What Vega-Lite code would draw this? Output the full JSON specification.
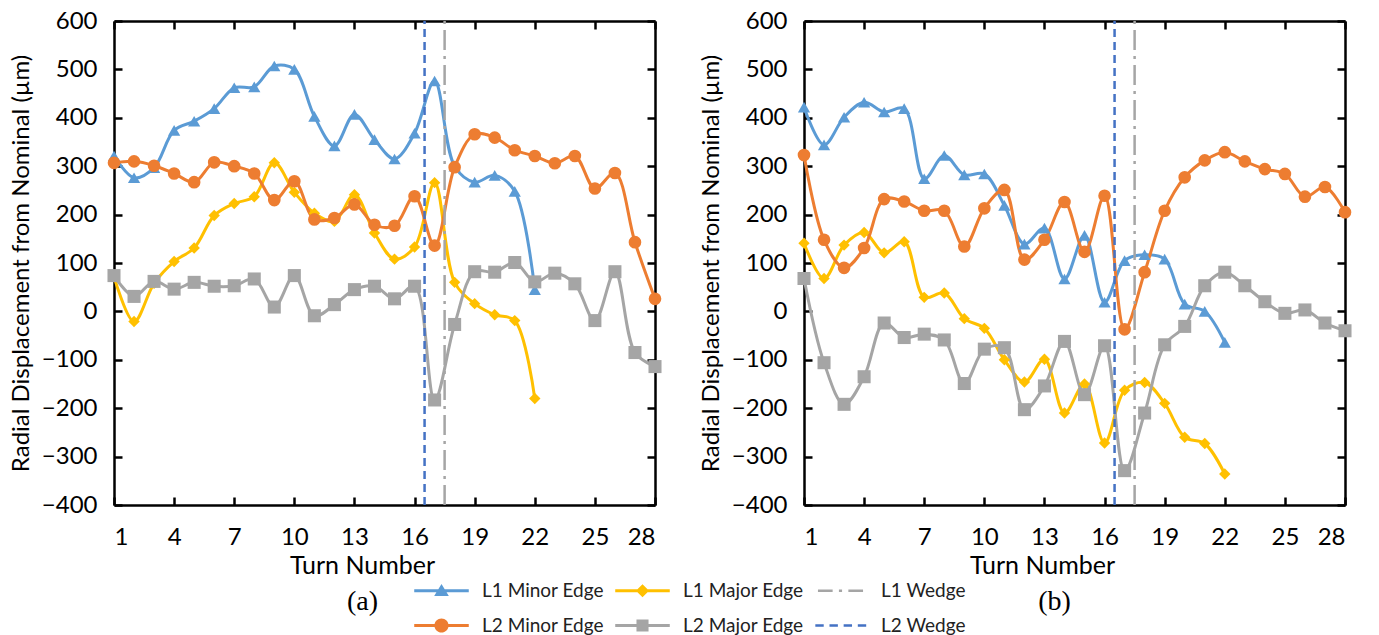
{
  "$schema": "https://vega.github.io/schema/vega-lite/v6.json",
  "background": "white",
  "padding": {"left": 9, "top": 9, "right": 0, "bottom": 0},
  "spacing": 37,
  "datasets": {
    "legendEntries": [
      {"series":"L1 Minor Edge"},{"series":"L1 Major Edge"},{"series":"L1 Wedge"},
      {"series":"L2 Minor Edge"},{"series":"L2 Major Edge"},{"series":"L2 Wedge"}
    ],
    "series": [
      {"panel":"a","series":"L1 Minor Edge","turn":1,"value":321},{"panel":"a","series":"L1 Minor Edge","turn":2,"value":276},{"panel":"a","series":"L1 Minor Edge","turn":3,"value":297},{"panel":"a","series":"L1 Minor Edge","turn":4,"value":374},{"panel":"a","series":"L1 Minor Edge","turn":5,"value":393},{"panel":"a","series":"L1 Minor Edge","turn":6,"value":419},{"panel":"a","series":"L1 Minor Edge","turn":7,"value":462},{"panel":"a","series":"L1 Minor Edge","turn":8,"value":464},{"panel":"a","series":"L1 Minor Edge","turn":9,"value":507},{"panel":"a","series":"L1 Minor Edge","turn":10,"value":500},{"panel":"a","series":"L1 Minor Edge","turn":11,"value":403},{"panel":"a","series":"L1 Minor Edge","turn":12,"value":342},{"panel":"a","series":"L1 Minor Edge","turn":13,"value":407},{"panel":"a","series":"L1 Minor Edge","turn":14,"value":355},{"panel":"a","series":"L1 Minor Edge","turn":15,"value":315},{"panel":"a","series":"L1 Minor Edge","turn":16,"value":368},{"panel":"a","series":"L1 Minor Edge","turn":17,"value":476},{"panel":"a","series":"L1 Minor Edge","turn":18,"value":300},{"panel":"a","series":"L1 Minor Edge","turn":19,"value":267},{"panel":"a","series":"L1 Minor Edge","turn":20,"value":281},{"panel":"a","series":"L1 Minor Edge","turn":21,"value":248},{"panel":"a","series":"L1 Minor Edge","turn":22,"value":45},
      {"panel":"a","series":"L1 Major Edge","turn":1,"value":72},{"panel":"a","series":"L1 Major Edge","turn":2,"value":-21},{"panel":"a","series":"L1 Major Edge","turn":3,"value":58},{"panel":"a","series":"L1 Major Edge","turn":4,"value":103},{"panel":"a","series":"L1 Major Edge","turn":5,"value":131},{"panel":"a","series":"L1 Major Edge","turn":6,"value":198},{"panel":"a","series":"L1 Major Edge","turn":7,"value":223},{"panel":"a","series":"L1 Major Edge","turn":8,"value":237},{"panel":"a","series":"L1 Major Edge","turn":9,"value":307},{"panel":"a","series":"L1 Major Edge","turn":10,"value":246},{"panel":"a","series":"L1 Major Edge","turn":11,"value":203},{"panel":"a","series":"L1 Major Edge","turn":12,"value":186},{"panel":"a","series":"L1 Major Edge","turn":13,"value":241},{"panel":"a","series":"L1 Major Edge","turn":14,"value":162},{"panel":"a","series":"L1 Major Edge","turn":15,"value":108},{"panel":"a","series":"L1 Major Edge","turn":16,"value":133},{"panel":"a","series":"L1 Major Edge","turn":17,"value":266},{"panel":"a","series":"L1 Major Edge","turn":18,"value":60},{"panel":"a","series":"L1 Major Edge","turn":19,"value":16},{"panel":"a","series":"L1 Major Edge","turn":20,"value":-7},{"panel":"a","series":"L1 Major Edge","turn":21,"value":-19},{"panel":"a","series":"L1 Major Edge","turn":22,"value":-180},
      {"panel":"a","series":"L2 Minor Edge","turn":1,"value":307},{"panel":"a","series":"L2 Minor Edge","turn":2,"value":310},{"panel":"a","series":"L2 Minor Edge","turn":3,"value":301},{"panel":"a","series":"L2 Minor Edge","turn":4,"value":285},{"panel":"a","series":"L2 Minor Edge","turn":5,"value":267},{"panel":"a","series":"L2 Minor Edge","turn":6,"value":308},{"panel":"a","series":"L2 Minor Edge","turn":7,"value":300},{"panel":"a","series":"L2 Minor Edge","turn":8,"value":285},{"panel":"a","series":"L2 Minor Edge","turn":9,"value":230},{"panel":"a","series":"L2 Minor Edge","turn":10,"value":269},{"panel":"a","series":"L2 Minor Edge","turn":11,"value":190},{"panel":"a","series":"L2 Minor Edge","turn":12,"value":193},{"panel":"a","series":"L2 Minor Edge","turn":13,"value":221},{"panel":"a","series":"L2 Minor Edge","turn":14,"value":179},{"panel":"a","series":"L2 Minor Edge","turn":15,"value":177},{"panel":"a","series":"L2 Minor Edge","turn":16,"value":238},{"panel":"a","series":"L2 Minor Edge","turn":17,"value":136},{"panel":"a","series":"L2 Minor Edge","turn":18,"value":298},{"panel":"a","series":"L2 Minor Edge","turn":19,"value":366},{"panel":"a","series":"L2 Minor Edge","turn":20,"value":359},{"panel":"a","series":"L2 Minor Edge","turn":21,"value":333},{"panel":"a","series":"L2 Minor Edge","turn":22,"value":321},{"panel":"a","series":"L2 Minor Edge","turn":23,"value":306},{"panel":"a","series":"L2 Minor Edge","turn":24,"value":321},{"panel":"a","series":"L2 Minor Edge","turn":25,"value":254},{"panel":"a","series":"L2 Minor Edge","turn":26,"value":286},{"panel":"a","series":"L2 Minor Edge","turn":27,"value":143},{"panel":"a","series":"L2 Minor Edge","turn":28,"value":26},
      {"panel":"a","series":"L2 Major Edge","turn":1,"value":74},{"panel":"a","series":"L2 Major Edge","turn":2,"value":31},{"panel":"a","series":"L2 Major Edge","turn":3,"value":62},{"panel":"a","series":"L2 Major Edge","turn":4,"value":46},{"panel":"a","series":"L2 Major Edge","turn":5,"value":60},{"panel":"a","series":"L2 Major Edge","turn":6,"value":52},{"panel":"a","series":"L2 Major Edge","turn":7,"value":53},{"panel":"a","series":"L2 Major Edge","turn":8,"value":67},{"panel":"a","series":"L2 Major Edge","turn":9,"value":9},{"panel":"a","series":"L2 Major Edge","turn":10,"value":74},{"panel":"a","series":"L2 Major Edge","turn":11,"value":-9},{"panel":"a","series":"L2 Major Edge","turn":12,"value":14},{"panel":"a","series":"L2 Major Edge","turn":13,"value":45},{"panel":"a","series":"L2 Major Edge","turn":14,"value":52},{"panel":"a","series":"L2 Major Edge","turn":15,"value":26},{"panel":"a","series":"L2 Major Edge","turn":16,"value":52},{"panel":"a","series":"L2 Major Edge","turn":17,"value":-183},{"panel":"a","series":"L2 Major Edge","turn":18,"value":-27},{"panel":"a","series":"L2 Major Edge","turn":19,"value":82},{"panel":"a","series":"L2 Major Edge","turn":20,"value":81},{"panel":"a","series":"L2 Major Edge","turn":21,"value":101},{"panel":"a","series":"L2 Major Edge","turn":22,"value":61},{"panel":"a","series":"L2 Major Edge","turn":23,"value":79},{"panel":"a","series":"L2 Major Edge","turn":24,"value":57},{"panel":"a","series":"L2 Major Edge","turn":25,"value":-19},{"panel":"a","series":"L2 Major Edge","turn":26,"value":82},{"panel":"a","series":"L2 Major Edge","turn":27,"value":-85},{"panel":"a","series":"L2 Major Edge","turn":28,"value":-114},
      {"panel":"b","series":"L1 Minor Edge","turn":1,"value":422},{"panel":"b","series":"L1 Minor Edge","turn":2,"value":344},{"panel":"b","series":"L1 Minor Edge","turn":3,"value":401},{"panel":"b","series":"L1 Minor Edge","turn":4,"value":432},{"panel":"b","series":"L1 Minor Edge","turn":5,"value":412},{"panel":"b","series":"L1 Minor Edge","turn":6,"value":419},{"panel":"b","series":"L1 Minor Edge","turn":7,"value":274},{"panel":"b","series":"L1 Minor Edge","turn":8,"value":322},{"panel":"b","series":"L1 Minor Edge","turn":9,"value":282},{"panel":"b","series":"L1 Minor Edge","turn":10,"value":284},{"panel":"b","series":"L1 Minor Edge","turn":11,"value":219},{"panel":"b","series":"L1 Minor Edge","turn":12,"value":139},{"panel":"b","series":"L1 Minor Edge","turn":13,"value":172},{"panel":"b","series":"L1 Minor Edge","turn":14,"value":67},{"panel":"b","series":"L1 Minor Edge","turn":15,"value":157},{"panel":"b","series":"L1 Minor Edge","turn":16,"value":19},{"panel":"b","series":"L1 Minor Edge","turn":17,"value":105},{"panel":"b","series":"L1 Minor Edge","turn":18,"value":117},{"panel":"b","series":"L1 Minor Edge","turn":19,"value":108},{"panel":"b","series":"L1 Minor Edge","turn":20,"value":15},{"panel":"b","series":"L1 Minor Edge","turn":21,"value":0},{"panel":"b","series":"L1 Minor Edge","turn":22,"value":-64},
      {"panel":"b","series":"L1 Major Edge","turn":1,"value":141},{"panel":"b","series":"L1 Major Edge","turn":2,"value":68},{"panel":"b","series":"L1 Major Edge","turn":3,"value":137},{"panel":"b","series":"L1 Major Edge","turn":4,"value":163},{"panel":"b","series":"L1 Major Edge","turn":5,"value":121},{"panel":"b","series":"L1 Major Edge","turn":6,"value":144},{"panel":"b","series":"L1 Major Edge","turn":7,"value":29},{"panel":"b","series":"L1 Major Edge","turn":8,"value":38},{"panel":"b","series":"L1 Major Edge","turn":9,"value":-15},{"panel":"b","series":"L1 Major Edge","turn":10,"value":-35},{"panel":"b","series":"L1 Major Edge","turn":11,"value":-100},{"panel":"b","series":"L1 Major Edge","turn":12,"value":-146},{"panel":"b","series":"L1 Major Edge","turn":13,"value":-99},{"panel":"b","series":"L1 Major Edge","turn":14,"value":-210},{"panel":"b","series":"L1 Major Edge","turn":15,"value":-150},{"panel":"b","series":"L1 Major Edge","turn":16,"value":-272},{"panel":"b","series":"L1 Major Edge","turn":17,"value":-163},{"panel":"b","series":"L1 Major Edge","turn":18,"value":-147},{"panel":"b","series":"L1 Major Edge","turn":19,"value":-190},{"panel":"b","series":"L1 Major Edge","turn":20,"value":-260},{"panel":"b","series":"L1 Major Edge","turn":21,"value":-273},{"panel":"b","series":"L1 Major Edge","turn":22,"value":-336},
      {"panel":"b","series":"L2 Minor Edge","turn":1,"value":323},{"panel":"b","series":"L2 Minor Edge","turn":2,"value":148},{"panel":"b","series":"L2 Minor Edge","turn":3,"value":90},{"panel":"b","series":"L2 Minor Edge","turn":4,"value":131},{"panel":"b","series":"L2 Minor Edge","turn":5,"value":232},{"panel":"b","series":"L2 Minor Edge","turn":6,"value":227},{"panel":"b","series":"L2 Minor Edge","turn":7,"value":208},{"panel":"b","series":"L2 Minor Edge","turn":8,"value":208},{"panel":"b","series":"L2 Minor Edge","turn":9,"value":134},{"panel":"b","series":"L2 Minor Edge","turn":10,"value":213},{"panel":"b","series":"L2 Minor Edge","turn":11,"value":251},{"panel":"b","series":"L2 Minor Edge","turn":12,"value":107},{"panel":"b","series":"L2 Minor Edge","turn":13,"value":148},{"panel":"b","series":"L2 Minor Edge","turn":14,"value":226},{"panel":"b","series":"L2 Minor Edge","turn":15,"value":123},{"panel":"b","series":"L2 Minor Edge","turn":16,"value":239},{"panel":"b","series":"L2 Minor Edge","turn":17,"value":-37},{"panel":"b","series":"L2 Minor Edge","turn":18,"value":81},{"panel":"b","series":"L2 Minor Edge","turn":19,"value":208},{"panel":"b","series":"L2 Minor Edge","turn":20,"value":277},{"panel":"b","series":"L2 Minor Edge","turn":21,"value":312},{"panel":"b","series":"L2 Minor Edge","turn":22,"value":329},{"panel":"b","series":"L2 Minor Edge","turn":23,"value":310},{"panel":"b","series":"L2 Minor Edge","turn":24,"value":294},{"panel":"b","series":"L2 Minor Edge","turn":25,"value":284},{"panel":"b","series":"L2 Minor Edge","turn":26,"value":237},{"panel":"b","series":"L2 Minor Edge","turn":27,"value":257},{"panel":"b","series":"L2 Minor Edge","turn":28,"value":205},
      {"panel":"b","series":"L2 Major Edge","turn":1,"value":68},{"panel":"b","series":"L2 Major Edge","turn":2,"value":-106},{"panel":"b","series":"L2 Major Edge","turn":3,"value":-192},{"panel":"b","series":"L2 Major Edge","turn":4,"value":-135},{"panel":"b","series":"L2 Major Edge","turn":5,"value":-24},{"panel":"b","series":"L2 Major Edge","turn":6,"value":-54},{"panel":"b","series":"L2 Major Edge","turn":7,"value":-47},{"panel":"b","series":"L2 Major Edge","turn":8,"value":-59},{"panel":"b","series":"L2 Major Edge","turn":9,"value":-149},{"panel":"b","series":"L2 Major Edge","turn":10,"value":-78},{"panel":"b","series":"L2 Major Edge","turn":11,"value":-75},{"panel":"b","series":"L2 Major Edge","turn":12,"value":-203},{"panel":"b","series":"L2 Major Edge","turn":13,"value":-154},{"panel":"b","series":"L2 Major Edge","turn":14,"value":-62},{"panel":"b","series":"L2 Major Edge","turn":15,"value":-172},{"panel":"b","series":"L2 Major Edge","turn":16,"value":-71},{"panel":"b","series":"L2 Major Edge","turn":17,"value":-329},{"panel":"b","series":"L2 Major Edge","turn":18,"value":-210},{"panel":"b","series":"L2 Major Edge","turn":19,"value":-69},{"panel":"b","series":"L2 Major Edge","turn":20,"value":-31},{"panel":"b","series":"L2 Major Edge","turn":21,"value":53},{"panel":"b","series":"L2 Major Edge","turn":22,"value":81},{"panel":"b","series":"L2 Major Edge","turn":23,"value":53},{"panel":"b","series":"L2 Major Edge","turn":24,"value":20},{"panel":"b","series":"L2 Major Edge","turn":25,"value":-4},{"panel":"b","series":"L2 Major Edge","turn":26,"value":3},{"panel":"b","series":"L2 Major Edge","turn":27,"value":-24},{"panel":"b","series":"L2 Major Edge","turn":28,"value":-40}
    ],
    "wedges": [
      {"panel":"a","series":"L1 Wedge","turn":17.5},
      {"panel":"a","series":"L2 Wedge","turn":16.5},
      {"panel":"b","series":"L1 Wedge","turn":17.5},
      {"panel":"b","series":"L2 Wedge","turn":16.5}
    ]
  },
  "hconcat": [
    {
      "width": 541, "height": 484,
      "title": {"text": "(a)", "orient": "bottom", "font": "Liberation Serif", "fontSize": 28, "fontWeight": "normal", "color": "#000", "dx": -22, "offset": 10},
      "resolve": {"axis": {"x": "independent", "y": "independent"}},
      "layer": [
        {
          "data": {"name": "legendEntries"},
          "mark": {"type": "point", "filled": true, "opacity": 0},
          "encoding": {
            "x": {"datum": 1, "type": "quantitative", "axis": null},
            "y": {"datum": 0, "type": "quantitative", "axis": null},
            "color": {"field": "series", "type": "nominal",
              "scale": {"domain": ["L1 Minor Edge","L1 Major Edge","L1 Wedge","L2 Minor Edge","L2 Major Edge","L2 Wedge"],
                        "range": ["#5B9BD5","#FFC000","#A5A5A5","#ED7D31","#A5A5A5","#4472C4"]},
              "legend": {"title": null, "orient": "none", "legendX": 318, "legendY": 560, "columns": 3, "direction": "horizontal",
                "symbolSize": 110, "symbolOffset": 0, "labelOffset": 31, "labelFont": "Lato", "labelFontSize": 19, "labelColor": "#222",
                "columnPadding": 11, "rowPadding": 15, "labelLimit": 300, "symbolStrokeWidth": 0, "symbolOpacity": 1}},
            "shape": {"field": "series", "type": "nominal",
              "scale": {"domain": ["L1 Minor Edge","L1 Major Edge","L1 Wedge","L2 Minor Edge","L2 Major Edge","L2 Wedge"],
                        "range": [
                          "M-5.2,-0.3H5.2V0.3H-5.2Z M0,-1.3L1.4,1H-1.4Z",
                          "M-5.2,-0.3H5.2V0.3H-5.2Z M0,-1.25L1.25,0L0,1.25L-1.25,0Z",
                          "M-4.3,-0.22H-1.5V0.22H-4.3Z M-0.3,-0.22H0.3V0.22H-0.3Z M1.5,-0.22H4.3V0.22H1.5Z",
                          "M-5.2,-0.3H5.2V0.3H-5.2Z M-1.35,0A1.35,1.35 0 1,1 1.35,0A1.35,1.35 0 1,1 -1.35,0Z",
                          "M-5.2,-0.3H5.2V0.3H-5.2Z M-1.15,-1.15H1.15V1.15H-1.15Z",
                          "M-4.8,-0.22H-3.2V0.22H-4.8Z M-2.1,-0.22H-0.5V0.22H-2.1Z M0.6,-0.22H2.2V0.22H0.6Z M3.3,-0.22H4.9V0.22H3.3Z"
                        ]},
              "legend": {"title": null, "orient": "none", "legendX": 318, "legendY": 560, "columns": 3, "direction": "horizontal",
                "symbolSize": 110, "symbolOffset": 0, "labelOffset": 31, "labelFont": "Lato", "labelFontSize": 19, "labelColor": "#222",
                "columnPadding": 11, "rowPadding": 15, "labelLimit": 300, "symbolStrokeWidth": 0, "symbolOpacity": 1}}
          }
        },
        {
          "data": {"name": "series"},
          "transform": [{"filter": "datum.panel === 'a'"}],
          "mark": {"type": "line", "interpolate": "catmull-rom", "strokeWidth": 3},
          "encoding": {
            "x": {"field": "turn", "type": "quantitative", "scale": {"domain": [1, 28], "nice": false, "zero": false},
                  "axis": {"orient": "bottom", "values": [1,4,7,10,13,16,19,22,25,28], "title": "Turn Number", "titleX": 248, "titleY": 60, "titleBaseline": "middle", "titleFontSize": 25}},
            "y": {"field": "value", "type": "quantitative", "scale": {"domain": [-400, 600], "nice": false},
                  "axis": {"orient": "left", "values": [-400,-300,-200,-100,0,100,200,300,400,500,600], "title": "Radial Displacement from Nominal (µm)"}},
            "color": {"field": "series", "type": "nominal"}
          }
        },
        {"data": {"name": "series"}, "transform": [{"filter": "datum.panel === 'a' && datum.series === 'L1 Minor Edge'"}],
         "mark": {"type": "point", "filled": true, "opacity": 1, "size": 150, "shape": "triangle-up"},
         "encoding": {"x": {"field": "turn", "type": "quantitative", "axis": null}, "y": {"field": "value", "type": "quantitative", "axis": null}, "color": {"field": "series", "type": "nominal"}}},
        {"data": {"name": "series"}, "transform": [{"filter": "datum.panel === 'a' && datum.series === 'L1 Major Edge'"}],
         "mark": {"type": "point", "filled": true, "opacity": 1, "size": 130, "shape": "diamond"},
         "encoding": {"x": {"field": "turn", "type": "quantitative", "axis": null}, "y": {"field": "value", "type": "quantitative", "axis": null}, "color": {"field": "series", "type": "nominal"}}},
        {"data": {"name": "series"}, "transform": [{"filter": "datum.panel === 'a' && datum.series === 'L2 Minor Edge'"}],
         "mark": {"type": "point", "filled": true, "opacity": 1, "size": 160, "shape": "circle"},
         "encoding": {"x": {"field": "turn", "type": "quantitative", "axis": null}, "y": {"field": "value", "type": "quantitative", "axis": null}, "color": {"field": "series", "type": "nominal"}}},
        {"data": {"name": "series"}, "transform": [{"filter": "datum.panel === 'a' && datum.series === 'L2 Major Edge'"}],
         "mark": {"type": "point", "filled": true, "opacity": 1, "size": 170, "shape": "square"},
         "encoding": {"x": {"field": "turn", "type": "quantitative", "axis": null}, "y": {"field": "value", "type": "quantitative", "axis": null}, "color": {"field": "series", "type": "nominal"}}},
        {
          "data": {"name": "wedges"},
          "transform": [{"filter": "datum.panel === 'a'"}],
          "mark": {"type": "rule", "strokeWidth": 2.5},
          "encoding": {
            "x": {"field": "turn", "type": "quantitative", "axis": {"orient": "top", "labels": false, "title": null, "values": [1,4,7,10,13,16,19,22,25,28]}},
            "y": {"datum": -400, "type": "quantitative", "axis": {"orient": "right", "labels": false, "title": null, "values": [-400,-300,-200,-100,0,100,200,300,400,500,600]}},
            "y2": {"datum": 600},
            "color": {"field": "series", "type": "nominal"},
            "strokeDash": {"field": "series", "type": "nominal", "legend": null,
              "scale": {"domain": ["L1 Wedge","L2 Wedge"], "range": [[20,6,3,6],[8,5]]}}
          }
        }
      ]
    },
    {
      "width": 541, "height": 484,
      "title": {"text": "(b)", "orient": "bottom", "font": "Liberation Serif", "fontSize": 28, "fontWeight": "normal", "color": "#000", "dx": -20, "offset": 10},
      "resolve": {"axis": {"x": "independent", "y": "independent"}},
      "layer": [
        {
          "data": {"name": "series"},
          "transform": [{"filter": "datum.panel === 'b'"}],
          "mark": {"type": "line", "interpolate": "catmull-rom", "strokeWidth": 3},
          "encoding": {
            "x": {"field": "turn", "type": "quantitative", "scale": {"domain": [1, 28], "nice": false, "zero": false},
                  "axis": {"orient": "bottom", "values": [1,4,7,10,13,16,19,22,25,28], "title": "Turn Number", "titleX": 238, "titleY": 60, "titleBaseline": "middle", "titleFontSize": 25}},
            "y": {"field": "value", "type": "quantitative", "scale": {"domain": [-400, 600], "nice": false},
                  "axis": {"orient": "left", "values": [-400,-300,-200,-100,0,100,200,300,400,500,600], "title": "Radial Displacement from Nominal (µm)"}},
            "color": {"field": "series", "type": "nominal"}
          }
        },
        {"data": {"name": "series"}, "transform": [{"filter": "datum.panel === 'b' && datum.series === 'L1 Minor Edge'"}],
         "mark": {"type": "point", "filled": true, "opacity": 1, "size": 150, "shape": "triangle-up"},
         "encoding": {"x": {"field": "turn", "type": "quantitative", "axis": null}, "y": {"field": "value", "type": "quantitative", "axis": null}, "color": {"field": "series", "type": "nominal"}}},
        {"data": {"name": "series"}, "transform": [{"filter": "datum.panel === 'b' && datum.series === 'L1 Major Edge'"}],
         "mark": {"type": "point", "filled": true, "opacity": 1, "size": 130, "shape": "diamond"},
         "encoding": {"x": {"field": "turn", "type": "quantitative", "axis": null}, "y": {"field": "value", "type": "quantitative", "axis": null}, "color": {"field": "series", "type": "nominal"}}},
        {"data": {"name": "series"}, "transform": [{"filter": "datum.panel === 'b' && datum.series === 'L2 Minor Edge'"}],
         "mark": {"type": "point", "filled": true, "opacity": 1, "size": 160, "shape": "circle"},
         "encoding": {"x": {"field": "turn", "type": "quantitative", "axis": null}, "y": {"field": "value", "type": "quantitative", "axis": null}, "color": {"field": "series", "type": "nominal"}}},
        {"data": {"name": "series"}, "transform": [{"filter": "datum.panel === 'b' && datum.series === 'L2 Major Edge'"}],
         "mark": {"type": "point", "filled": true, "opacity": 1, "size": 170, "shape": "square"},
         "encoding": {"x": {"field": "turn", "type": "quantitative", "axis": null}, "y": {"field": "value", "type": "quantitative", "axis": null}, "color": {"field": "series", "type": "nominal"}}},
        {
          "data": {"name": "wedges"},
          "transform": [{"filter": "datum.panel === 'b'"}],
          "mark": {"type": "rule", "strokeWidth": 2.5},
          "encoding": {
            "x": {"field": "turn", "type": "quantitative", "axis": {"orient": "top", "labels": false, "title": null, "values": [1,4,7,10,13,16,19,22,25,28]}},
            "y": {"datum": -400, "type": "quantitative", "axis": {"orient": "right", "labels": false, "title": null, "values": [-400,-300,-200,-100,0,100,200,300,400,500,600]}},
            "y2": {"datum": 600},
            "color": {"field": "series", "type": "nominal"},
            "strokeDash": {"field": "series", "type": "nominal", "legend": null}
          }
        }
      ]
    }
  ],
  "config": {
    "view": {"stroke": null},
    "axis": {
      "grid": false, "domainColor": "#000", "domainWidth": 2.5, "tickColor": "#000", "tickWidth": 2.5, "tickSize": -8,
      "labelFont": "Lato", "labelFontSize": 24, "labelColor": "#000", "labelPadding": 22,
      "titleFont": "Lato", "titleFontSize": 24, "titleFontWeight": "normal", "titleColor": "#000"
    },
    "axisLeft": {"labelPadding": 25, "titlePadding": 8},
    "axisBottom": {"labelPadding": 28}
  }
}
